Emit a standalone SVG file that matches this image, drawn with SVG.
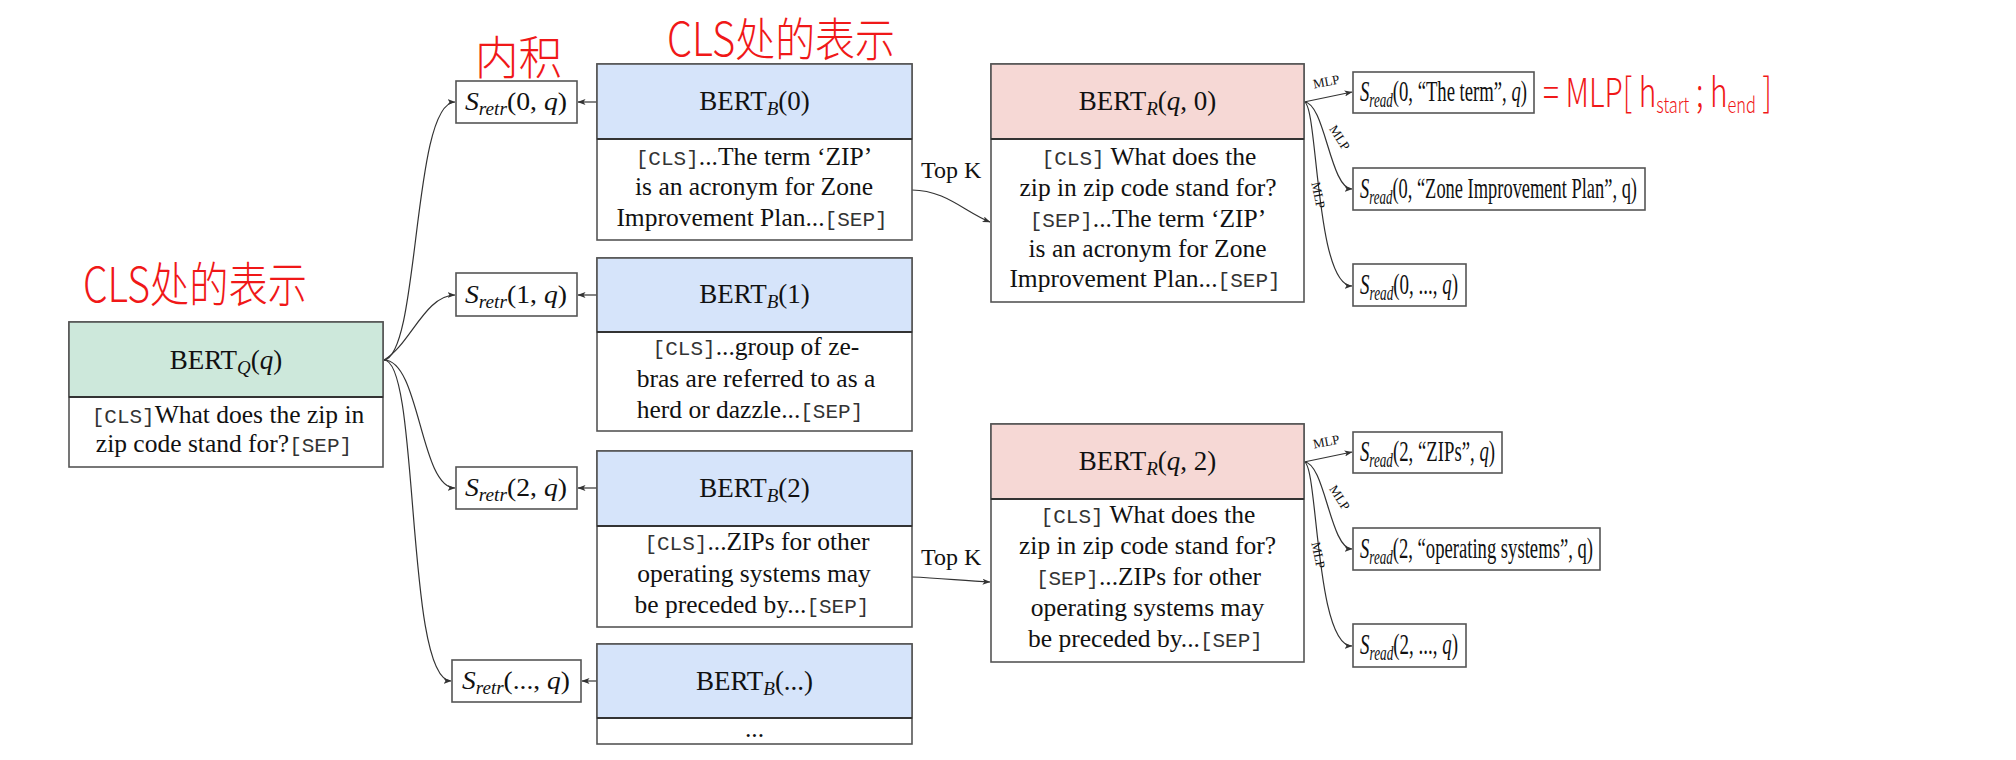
<svg xmlns="http://www.w3.org/2000/svg" width="2016" height="760" viewBox="0 0 2016 760">
<style>
  .bg{fill:#ffffff}
  .box{fill:#ffffff;stroke:#555555;stroke-width:1.6}
  .hq{fill:#cde8db;stroke:#555555;stroke-width:1.6}
  .hb{fill:#d6e4fa;stroke:#555555;stroke-width:1.6}
  .hr{fill:#f6d8d5;stroke:#555555;stroke-width:1.6}
  .sep{stroke:#333333;stroke-width:2}
  .sbox{fill:#ffffff;stroke:#555555;stroke-width:1.6}
  text{font-family:"Liberation Serif","Times New Roman",serif;fill:#111111}
  .title{font-family:"Liberation Serif","Times New Roman",serif;font-size:27px}
  .body{font-family:"Liberation Serif","Times New Roman",serif;font-size:25.5px;text-anchor:middle}
  .mono{font-family:"Liberation Mono","Courier New",monospace;font-size:21px;fill:#333333}
  .sr{font-family:"Liberation Serif","Times New Roman",serif;font-size:26px}
  .sd{font-family:"Liberation Serif","Times New Roman",serif;font-size:30px}
  .mlp{font-family:"Liberation Serif","Times New Roman",serif;font-size:13px}
  .topk{font-family:"Liberation Serif","Times New Roman",serif;font-size:24px}
  .it{font-style:italic}
  .hand{font-family:"Noto Sans CJK SC","Noto Sans",sans-serif;font-weight:300;fill:#f01818}
  .conn{fill:none;stroke:#333333;stroke-width:1.2}
</style>
<defs>
  <marker id="arr" viewBox="0 0 8 6" refX="7.5" refY="3" markerWidth="8" markerHeight="6" markerUnits="userSpaceOnUse" orient="auto">
    <path d="M0,0 L8,3 L0,6 L2,3 z" fill="#333333"/>
  </marker>
</defs>
<rect class="bg" x="0" y="0" width="2016" height="760"/>

<!-- connectors -->
<g id="connectors">
  <path class="conn" d="M384,360 C420,355 412,102 455,102" marker-end="url(#arr)"/>
  <path class="conn" d="M384,360 C410,345 425,295 455,295" marker-end="url(#arr)"/>
  <path class="conn" d="M384,360 C420,360 420,488 455,488" marker-end="url(#arr)"/>
  <path class="conn" d="M384,360 C420,360 405,681 451,681" marker-end="url(#arr)"/>
  <line class="conn" x1="597" y1="102" x2="578" y2="102" marker-end="url(#arr)"/>
  <line class="conn" x1="597" y1="295" x2="578" y2="295" marker-end="url(#arr)"/>
  <line class="conn" x1="597" y1="488" x2="578" y2="488" marker-end="url(#arr)"/>
  <line class="conn" x1="597" y1="681" x2="582" y2="681" marker-end="url(#arr)"/>
  <path class="conn" d="M912,190 C945,190 965,212 990,222" marker-end="url(#arr)"/>
  <path class="conn" d="M912,577 C940,578 965,581 990,582" marker-end="url(#arr)"/>
  <!-- MLP top -->
  <line class="conn" x1="1304" y1="102" x2="1352" y2="92" marker-end="url(#arr)"/>
  <path class="conn" d="M1304,102 C1325,102 1330,189 1352,189" marker-end="url(#arr)"/>
  <path class="conn" d="M1304,102 C1318,102 1315,286 1352,286" marker-end="url(#arr)"/>
  <text class="mlp" transform="translate(1327,86) rotate(-11)" text-anchor="middle">MLP</text>
  <text class="mlp" transform="translate(1336,140) rotate(57)" text-anchor="middle">MLP</text>
  <text class="mlp" transform="translate(1314,196) rotate(78)" text-anchor="middle">MLP</text>
  <!-- MLP bottom -->
  <line class="conn" x1="1304" y1="462" x2="1352" y2="452" marker-end="url(#arr)"/>
  <path class="conn" d="M1304,462 C1325,462 1330,549 1352,549" marker-end="url(#arr)"/>
  <path class="conn" d="M1304,462 C1318,462 1315,646 1352,646" marker-end="url(#arr)"/>
  <text class="mlp" transform="translate(1327,446) rotate(-11)" text-anchor="middle">MLP</text>
  <text class="mlp" transform="translate(1336,500) rotate(57)" text-anchor="middle">MLP</text>
  <text class="mlp" transform="translate(1314,556) rotate(78)" text-anchor="middle">MLP</text>
  <text class="topk" x="921" y="178">Top K</text>
  <text class="topk" x="921" y="565">Top K</text>
</g>

<!-- BERT_Q -->
<g id="bert-q">
  <rect class="box" x="69" y="322" width="314" height="145"/>
  <rect class="hq" x="69" y="322" width="314" height="75"/>
  <line class="sep" x1="69" y1="397" x2="383" y2="397"/>
  <text class="title" x="226" y="369" text-anchor="middle">BERT<tspan class="it" font-size="19" dy="5">Q</tspan><tspan dy="-5">(</tspan><tspan class="it">q</tspan>)</text>
  <text class="body" x="228" y="423"><tspan class="mono">[CLS]</tspan>What does the zip in</text>
  <text class="body" x="224" y="452">zip code stand for?<tspan class="mono">[SEP]</tspan></text>
</g>

<!-- S_retr nodes -->
<g id="sretr-0">
  <rect class="sbox" x="456" y="81" width="121" height="42"/>
  <text class="sr" x="465" y="110" textLength="102" lengthAdjust="spacingAndGlyphs"><tspan class="it">S</tspan><tspan class="it" font-size="18" dy="5">retr</tspan><tspan dy="-5">(0, </tspan><tspan class="it">q</tspan>)</text>
</g>
<g id="sretr-1">
  <rect class="sbox" x="456" y="273" width="121" height="43"/>
  <text class="sr" x="465" y="303" textLength="102" lengthAdjust="spacingAndGlyphs"><tspan class="it">S</tspan><tspan class="it" font-size="18" dy="5">retr</tspan><tspan dy="-5">(1, </tspan><tspan class="it">q</tspan>)</text>
</g>
<g id="sretr-2">
  <rect class="sbox" x="456" y="467" width="121" height="42"/>
  <text class="sr" x="465" y="496" textLength="102" lengthAdjust="spacingAndGlyphs"><tspan class="it">S</tspan><tspan class="it" font-size="18" dy="5">retr</tspan><tspan dy="-5">(2, </tspan><tspan class="it">q</tspan>)</text>
</g>
<g id="sretr-n">
  <rect class="sbox" x="452" y="660" width="129" height="42"/>
  <text class="sr" x="462" y="689" textLength="108" lengthAdjust="spacingAndGlyphs"><tspan class="it">S</tspan><tspan class="it" font-size="18" dy="5">retr</tspan><tspan dy="-5">(..., </tspan><tspan class="it">q</tspan>)</text>
</g>

<!-- BERT_B nodes -->
<g id="bert-b0">
  <rect class="box" x="597" y="64" width="315" height="176"/>
  <rect class="hb" x="597" y="64" width="315" height="75"/>
  <line class="sep" x1="597" y1="139" x2="912" y2="139"/>
  <text class="title" x="754.5" y="110" text-anchor="middle">BERT<tspan class="it" font-size="19" dy="5">B</tspan><tspan dy="-5">(0)</tspan></text>
  <text class="body" x="754" y="165"><tspan class="mono">[CLS]</tspan>...The term ‘ZIP’</text>
  <text class="body" x="754" y="195">is an acronym for Zone</text>
  <text class="body" x="752" y="226">Improvement Plan...<tspan class="mono">[SEP]</tspan></text>
</g>
<g id="bert-b1">
  <rect class="box" x="597" y="258" width="315" height="173"/>
  <rect class="hb" x="597" y="258" width="315" height="74"/>
  <line class="sep" x1="597" y1="332" x2="912" y2="332"/>
  <text class="title" x="754.5" y="303" text-anchor="middle">BERT<tspan class="it" font-size="19" dy="5">B</tspan><tspan dy="-5">(1)</tspan></text>
  <text class="body" x="756" y="355"><tspan class="mono">[CLS]</tspan>...group of ze-</text>
  <text class="body" x="756" y="387">bras are referred to as a</text>
  <text class="body" x="750" y="418">herd or dazzle...<tspan class="mono">[SEP]</tspan></text>
</g>
<g id="bert-b2">
  <rect class="box" x="597" y="451" width="315" height="176"/>
  <rect class="hb" x="597" y="451" width="315" height="75"/>
  <line class="sep" x1="597" y1="526" x2="912" y2="526"/>
  <text class="title" x="754.5" y="497" text-anchor="middle">BERT<tspan class="it" font-size="19" dy="5">B</tspan><tspan dy="-5">(2)</tspan></text>
  <text class="body" x="757" y="550"><tspan class="mono">[CLS]</tspan>...ZIPs for other</text>
  <text class="body" x="754" y="582">operating systems may</text>
  <text class="body" x="752" y="613">be preceded by...<tspan class="mono">[SEP]</tspan></text>
</g>
<g id="bert-bn">
  <rect class="box" x="597" y="644" width="315" height="100"/>
  <rect class="hb" x="597" y="644" width="315" height="74"/>
  <line class="sep" x1="597" y1="718" x2="912" y2="718"/>
  <text class="title" x="754.5" y="690" text-anchor="middle">BERT<tspan class="it" font-size="19" dy="5">B</tspan><tspan dy="-5">(...)</tspan></text>
  <text class="body" x="754.5" y="737" font-size="20">...</text>
</g>

<!-- BERT_R nodes -->
<g id="bert-r0">
  <rect class="box" x="991" y="64" width="313" height="238"/>
  <rect class="hr" x="991" y="64" width="313" height="75"/>
  <line class="sep" x1="991" y1="139" x2="1304" y2="139"/>
  <text class="title" x="1147.5" y="110" text-anchor="middle">BERT<tspan class="it" font-size="19" dy="5">R</tspan><tspan dy="-5">(</tspan><tspan class="it">q</tspan>, 0)</text>
  <text class="body" x="1149" y="165"><tspan class="mono">[CLS]</tspan> What does the</text>
  <text class="body" x="1148" y="196">zip in zip code stand for?</text>
  <text class="body" x="1148" y="227"><tspan class="mono">[SEP]</tspan>...The term ‘ZIP’</text>
  <text class="body" x="1147.5" y="257">is an acronym for Zone</text>
  <text class="body" x="1145" y="287">Improvement Plan...<tspan class="mono">[SEP]</tspan></text>
</g>
<g id="bert-r2">
  <rect class="box" x="991" y="424" width="313" height="238"/>
  <rect class="hr" x="991" y="424" width="313" height="75"/>
  <line class="sep" x1="991" y1="499" x2="1304" y2="499"/>
  <text class="title" x="1147.5" y="470" text-anchor="middle">BERT<tspan class="it" font-size="19" dy="5">R</tspan><tspan dy="-5">(</tspan><tspan class="it">q</tspan>, 2)</text>
  <text class="body" x="1148" y="523"><tspan class="mono">[CLS]</tspan> What does the</text>
  <text class="body" x="1147.5" y="554">zip in zip code stand for?</text>
  <text class="body" x="1148.5" y="585"><tspan class="mono">[SEP]</tspan>...ZIPs for other</text>
  <text class="body" x="1147.5" y="616">operating systems may</text>
  <text class="body" x="1145.5" y="647">be preceded by...<tspan class="mono">[SEP]</tspan></text>
</g>

<!-- S_read nodes -->
<g id="sread-0a">
  <rect class="sbox" x="1353" y="72" width="181" height="41"/>
  <text class="sd" x="1360" y="101" textLength="167" lengthAdjust="spacingAndGlyphs"><tspan class="it">S</tspan><tspan class="it" font-size="21" dy="6">read</tspan><tspan dy="-6">(0, “The term”, </tspan><tspan class="it">q</tspan>)</text>
</g>
<g id="sread-0b">
  <rect class="sbox" x="1353" y="168" width="292" height="42"/>
  <text class="sd" x="1360" y="198" textLength="277" lengthAdjust="spacingAndGlyphs"><tspan class="it">S</tspan><tspan class="it" font-size="21" dy="6">read</tspan><tspan dy="-6">(0, “Zone Improvement Plan”, q)</tspan></text>
</g>
<g id="sread-0c">
  <rect class="sbox" x="1353" y="264" width="113" height="42"/>
  <text class="sd" x="1360" y="294" textLength="98" lengthAdjust="spacingAndGlyphs"><tspan class="it">S</tspan><tspan class="it" font-size="21" dy="6">read</tspan><tspan dy="-6">(0, ..., </tspan><tspan class="it">q</tspan>)</text>
</g>
<g id="sread-2a">
  <rect class="sbox" x="1353" y="432" width="149" height="41"/>
  <text class="sd" x="1360" y="461" textLength="135" lengthAdjust="spacingAndGlyphs"><tspan class="it">S</tspan><tspan class="it" font-size="21" dy="6">read</tspan><tspan dy="-6">(2, “ZIPs”, </tspan><tspan class="it">q</tspan>)</text>
</g>
<g id="sread-2b">
  <rect class="sbox" x="1353" y="528" width="247" height="42"/>
  <text class="sd" x="1360" y="558" textLength="233" lengthAdjust="spacingAndGlyphs"><tspan class="it">S</tspan><tspan class="it" font-size="21" dy="6">read</tspan><tspan dy="-6">(2, “operating systems”, q)</tspan></text>
</g>
<g id="sread-2c">
  <rect class="sbox" x="1353" y="624" width="113" height="43"/>
  <text class="sd" x="1360" y="654" textLength="98" lengthAdjust="spacingAndGlyphs"><tspan class="it">S</tspan><tspan class="it" font-size="21" dy="6">read</tspan><tspan dy="-6">(2, ..., </tspan><tspan class="it">q</tspan>)</text>
</g>

<!-- handwritten annotations -->
<g id="annotations">
  <text class="hand" x="83" y="302" font-size="48" textLength="224" lengthAdjust="spacingAndGlyphs">CLS处的表示</text>
  <text class="hand" x="475" y="74" font-size="46" textLength="87" lengthAdjust="spacingAndGlyphs">内积</text>
  <text class="hand" x="667" y="56" font-size="46" textLength="228" lengthAdjust="spacingAndGlyphs">CLS处的表示</text>
  <text class="hand" x="1543" y="107" font-size="40" textLength="229" lengthAdjust="spacingAndGlyphs">= MLP[ h<tspan font-size="22" dy="6">start</tspan><tspan dy="-6"> ; h</tspan><tspan font-size="22" dy="6">end</tspan><tspan dy="-6"> ]</tspan></text>
</g>
</svg>
